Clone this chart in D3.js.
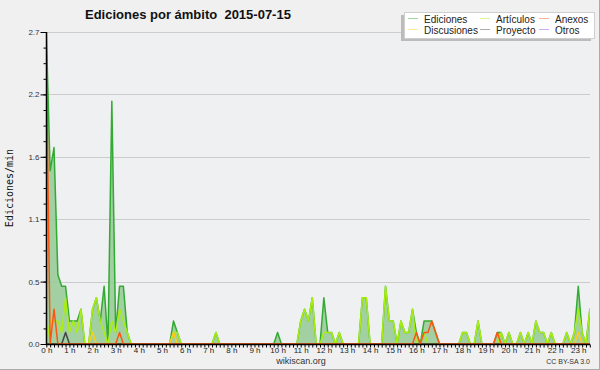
<!DOCTYPE html>
<html><head><meta charset="utf-8">
<script src="https://cdn.jsdelivr.net/npm/d3@7"></script>
<style>html,body{margin:0;padding:0;background:#f0f0f0;}svg{display:block;}</style>
</head><body>
<script>
// ---- data (edits per minute, 10-minute bins, 2015-07-15) ----
const title = "Ediciones por ámbito  2015-07-15";
const yLabel = "Ediciones/min";
const hourLabels = d3.range(0, 24).map(h => h + " h");
const yTicks = [0, 0.54, 1.08, 1.62, 2.16, 2.7];
const seriesNames = ["Ediciones", "Artículos", "Anexos", "Discusiones", "Proyecto", "Otros"];
const seriesColors = ["#33aa33", "#aaee11", "#ff5511", "#ffcc11", "#444444", "#8844ee"];

function bins(pairs) { const a = new Array(144).fill(0); pairs.forEach(([i, v]) => a[i] = v); return a; }

const ediciones = bins([[0,2.7],[1,1.5],[2,1.7],[3,0.6],[4,0.5],[5,0.5],[6,0.2],[7,0.2],[8,0.2],[9,0.3],
  [12,0.3],[13,0.4],[14,0.2],[15,0.5],[17,2.1],[18,0.1],[19,0.5],[20,0.5],[21,0.1],
  [33,0.2],[34,0.1],[44,0.1],[60,0.1],[66,0.2],[67,0.3],[68,0.2],[69,0.4],[72,0.4],[73,0.1],[74,0.1],[76,0.1],
  [82,0.4],[83,0.4],[88,0.5],[89,0.2],[90,0.2],[92,0.2],[93,0.1],[94,0.1],[95,0.3],[96,0.1],[98,0.2],[99,0.2],[100,0.2],[101,0.1],
  [108,0.1],[109,0.1],[112,0.2],[117,0.1],[118,0.1],[120,0.1],[123,0.1],[125,0.1],[127,0.2],[128,0.1],[129,0.1],[131,0.1],
  [135,0.1],[137,0.1],[138,0.5],[139,0.1],[141,0.3]]);
const articulos = bins([[1,0.2],[2,0.2],[3,0.2],[4,0.1],[5,0.4],[6,0.1],[7,0.2],[8,0.1],[9,0.3],
  [12,0.3],[13,0.4],[14,0.2],[15,0.1],[17,0.2],[18,0.1],[19,0.3],[20,0.2],[21,0.1],
  [33,0.1],[34,0.1],[44,0.1],[66,0.2],[67,0.3],[68,0.2],[69,0.4],[72,0.1],[73,0.1],[74,0.1],[76,0.1],
  [82,0.4],[83,0.4],[88,0.5],[89,0.2],[90,0.2],[92,0.2],[93,0.1],[94,0.1],[95,0.3],[98,0.1],
  [108,0.1],[109,0.1],[112,0.2],[118,0.1],[120,0.1],[123,0.1],[125,0.1],[127,0.2],[128,0.1],[129,0.1],[131,0.1],
  [135,0.1],[137,0.1],[138,0.3],[139,0.1],[141,0.3]]);
const anexos = bins([[0,2.5],[2,0.3],[19,0.1],[96,0.1],[98,0.1],[99,0.1],[100,0.2],[101,0.1],[117,0.1]]);
const discusiones = bins([[12,0.1],[33,0.1],[138,0.1]]);
const proyecto = bins([[5,0.1]]);
const otros = bins([]);

// ---- layout ----
const W = 600, H = 370;
const svg = d3.select("body").append("svg").attr("width", W).attr("height", H)
  .style("font-family", "'Liberation Sans', Arial, sans-serif");
svg.append("rect").attr("width", W).attr("height", H).attr("fill", "#f0f0f0");
svg.append("line").attr("x1", W - 0.5).attr("x2", W - 0.5).attr("y1", 0).attr("y2", H).attr("stroke", "#aaa");
svg.append("line").attr("x1", 0).attr("x2", W).attr("y1", H - 0.5).attr("y2", H - 0.5).attr("stroke", "#aaa");

const x = d3.scaleLinear().domain([0, 144]).range([46.3, 601.4]);
const y = d3.scaleLinear().domain([0, 2.7]).range([344, 32]);
const xRight = 590;

svg.append("rect").attr("x", 46.3).attr("y", 32).attr("width", xRight - 46.3).attr("height", 312).attr("fill", "#eff0f1");

// grid
svg.append("g").selectAll("line").data(yTicks).join("line")
  .attr("x1", 46.3).attr("x2", xRight).attr("y1", d => Math.round(y(d)) + 0.5).attr("y2", d => Math.round(y(d)) + 0.5)
  .attr("stroke", "#cccccc").attr("stroke-width", 1);

svg.append("clipPath").attr("id", "clip").append("rect").attr("x", 46).attr("y", 0).attr("width", xRight - 46).attr("height", 345);
const plot = svg.append("g").attr("clip-path", "url(#clip)");

const idx = d3.range(144);
const area = d3.area().x(i => x(i)).y0(y(0)).y1(i => y(ediciones[i]));
plot.append("path").attr("d", area(idx)).attr("fill", "#99cc99").attr("fill-opacity", 0.9);

const allSeries = [ediciones, articulos, anexos, discusiones, proyecto, otros];
const lineGen = arr => d3.line().x(i => x(i)).y(i => y(arr[i]));
[0, 1, 3, 4, 2].forEach(k => {
  plot.append("path").attr("d", lineGen(allSeries[k])(idx)).attr("fill", "none")
    .attr("stroke", seriesColors[k]).attr("stroke-width", 1.5).attr("stroke-linejoin", "round");
});

// y axis
const yAxis = svg.append("g").attr("transform", "translate(46.5,0)")
  .call(d3.axisLeft(y).tickValues(yTicks).tickFormat(d => d.toFixed(1)).tickSize(6).tickPadding(1));
yAxis.select(".domain").attr("stroke", "#000").attr("stroke-width", 1.5).attr("d", "M0,32V344");
yAxis.selectAll(".tick line").attr("stroke", "#000");
yAxis.selectAll(".tick text").attr("font-size", 8).attr("fill", "#333").style("font-family", "'Liberation Sans', Arial, sans-serif");
const yMinor = svg.append("g").attr("transform", "translate(46.5,0)")
  .call(d3.axisLeft(y).tickValues(d3.range(0, 21).map(k => k * 0.135)).tickFormat("").tickSize(3));
yMinor.select(".domain").remove();
yMinor.selectAll(".tick line").attr("stroke", "#000");

// x axis
const xMinor = svg.append("g").attr("transform", "translate(0,344.5)")
  .call(d3.axisBottom(x).tickValues(d3.range(0, 142)).tickFormat("").tickSize(3));
xMinor.select(".domain").attr("stroke", "#000").attr("stroke-width", 1.5).attr("d", "M46,0H" + xRight);
xMinor.selectAll(".tick line").attr("stroke", "#000");
const xLab = svg.append("g").attr("transform", "translate(0,344.5)")
  .call(d3.axisBottom(x).tickValues(d3.range(0, 24).map(h => h * 6)).tickFormat((d, i) => hourLabels[i]).tickSize(0).tickPadding(3));
xLab.select(".domain").remove();
xLab.selectAll(".tick text").attr("font-size", 8).attr("fill", "#222").style("font-family", "'Liberation Sans', Arial, sans-serif");

// texts
svg.append("text").attr("x", 85).attr("y", 19).attr("font-size", 13).attr("font-weight", "bold")
  .attr("fill", "#111").style("white-space", "pre").attr("xml:space", "preserve").text(title);
svg.append("text").attr("transform", "translate(13,188) rotate(-90)").attr("text-anchor", "middle")
  .attr("font-size", 10).style("font-family", "'DejaVu Sans Mono', monospace").attr("fill", "#111").text(yLabel);
svg.append("text").attr("x", 301).attr("y", 364).attr("text-anchor", "middle").attr("font-size", 9).attr("fill", "#333").text("wikiscan.org");
svg.append("text").attr("x", 590).attr("y", 364).attr("text-anchor", "end").attr("font-size", 7).attr("fill", "#333").text("CC BY-SA 3.0");

// legend
const lg = svg.append("g");
lg.append("rect").attr("x", 401).attr("y", 15).attr("width", 190).attr("height", 26).attr("fill", "#bbbbbb");
lg.append("rect").attr("x", 404.5).attr("y", 12.5).attr("width", 190).attr("height", 26).attr("fill", "#fff").attr("stroke", "#cfcfcf");
const legPos = [[408, 18.5], [480, 18.5], [539, 18.5], [408, 29.5], [480, 29.5], [539, 29.5]];
const legOrder = [0, 1, 2, 3, 4, 5];
legOrder.forEach((k, j) => {
  const [lx, ly] = legPos[j];
  lg.append("line").attr("x1", lx).attr("x2", lx + 10).attr("y1", ly).attr("y2", ly)
    .attr("stroke", seriesColors[k]).attr("stroke-opacity", 0.45).attr("stroke-width", 1);
  lg.append("text").attr("x", lx + 16).attr("y", ly + 4).attr("font-size", 10).attr("fill", "#222").text(seriesNames[k]);
});
</script>
</body></html>
